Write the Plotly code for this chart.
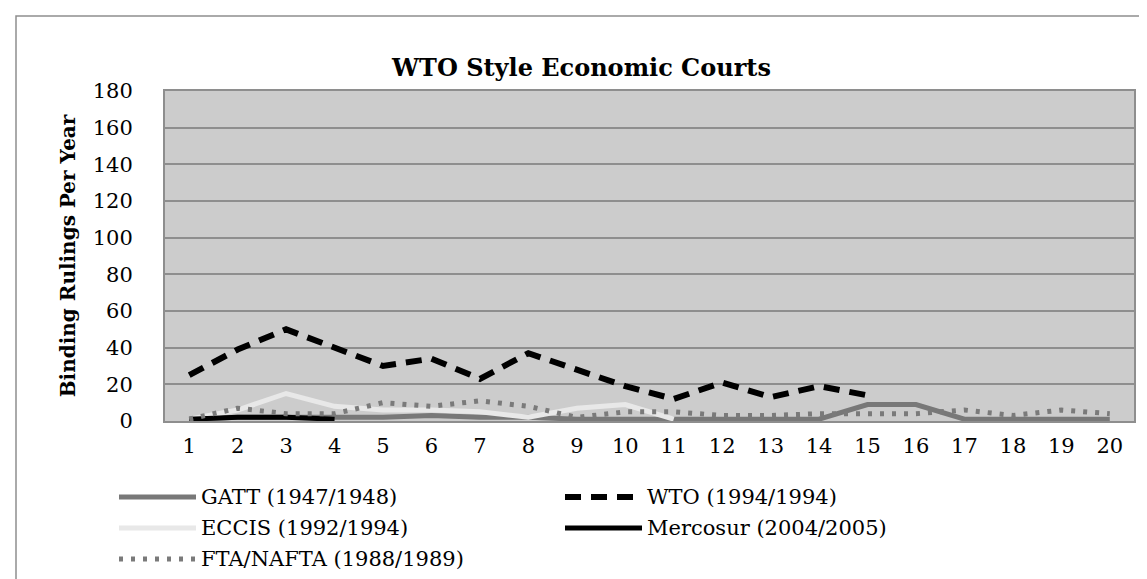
import plotly.graph_objects as go

years = list(range(1, 21))

series_names = [
    "GATT (1947/1948)",
    "WTO (1994/1994)",
    "ECCIS (1992/1994)",
    "Mercosur (2004/2005)",
    "FTA/NAFTA (1988/1989)",
]

gatt = [1, 2, 2, 2, 2, 3, 2, 2, 1, 1, 1, 1, 1, 1, 9, 9, 1, 1, 1, 1]
wto = [25, 39, 50, 40, 30, 34, 23, 37, 28, 19, 12, 21, 13, 19, 14]
eccis = [1, 6, 15, 8, 6, 6, 5, 2, 7, 9, 1]
mercosur = [1, 2, 2, 1]
fta = [1, 7, 4, 4, 10, 8, 11, 8, 2, 5, 5, 3, 3, 4, 4, 4, 6, 3, 6, 4]

y_ticks = list(range(0, 181, 20))

series_values = [gatt, wto, eccis, mercosur, fta]
series_colors = ["#787878", "#000000", "#e8e8e8", "#000000", "#7a7a7a"]
series_dash = ["solid", "16px,10px", "solid", "solid", "4px,8px"]
series_width = [5, 6, 5, 5, 5]

FONT = "DejaVu Serif"
W, H = 1147, 579
PL, PR, PT, PB = 157, 1126, 83, 413

fig = go.Figure()
for name, vals, col, dash, w in zip(series_names, series_values, series_colors, series_dash, series_width):
    fig.add_trace(go.Scatter(
        x=years[:len(vals)], y=vals, mode="lines", name=name,
        line=dict(color=col, width=w, dash=dash), showlegend=False,
    ))

fig.update_layout(
    width=W, height=H,
    margin=dict(l=PL, r=W - PR, t=PT, b=H - PB),
    paper_bgcolor="white",
    plot_bgcolor="#cccccc",
    title=dict(text="<b>WTO Style Economic Courts</b>", x=0.5, xanchor="center",
               y=1 - 60 / H, yanchor="middle",
               font=dict(family=FONT, size=24, color="black")),
    font=dict(family=FONT, color="black"),
)
fig.update_xaxes(
    range=[0.5, 20.5], tickmode="array", tickvals=years, ticktext=[str(v) for v in years],
    showgrid=False, zeroline=False, showline=True, linecolor="#8e8e8e", linewidth=2, mirror=True,
    tickfont=dict(family=FONT, size=21), ticks="", ticklabelstandoff=5,
)
fig.update_yaxes(
    range=[0, 180], tickmode="array", tickvals=y_ticks,
    showgrid=True, gridcolor="#8e8e8e", gridwidth=2, zeroline=False,
    showline=True, linecolor="#8e8e8e", linewidth=2, mirror=True,
    tickfont=dict(family=FONT, size=21), ticks="", ticklabelstandoff=26,
    title=dict(text="<b>Binding Rulings Per Year</b>", font=dict(family=FONT, size=20), standoff=12),
)


def px(x):
    return (x - PL) / (PR - PL)


def py(y):
    return (PB - y) / (PB - PT)


# manual legend (two columns, three rows)
legend_pos = [(0, 0), (1, 0), (0, 1), (1, 1), (0, 2)]
col_x = [(111, 188), (557, 634)]
row_y = [489, 520, 551]
for name, col, dash, w, (c, r) in zip(series_names, series_colors, series_dash, series_width, legend_pos):
    x0, x1 = col_x[c]
    yy = py(row_y[r])
    fig.add_shape(type="line", xref="paper", yref="paper",
                  x0=px(x0), x1=px(x1), y0=yy, y1=yy,
                  line=dict(color=col, width=w, dash=dash))
    fig.add_annotation(xref="paper", yref="paper", x=px(x1 + 3), y=yy,
                       text=name, showarrow=False, xanchor="left", yanchor="middle",
                       font=dict(family=FONT, size=21, color="black"))

# outer chart border
fig.add_shape(type="rect", xref="paper", yref="paper",
              x0=px(8), x1=px(1140), y0=py(600), y1=py(8),
              line=dict(color="#8e8e8e", width=1.5), fillcolor="rgba(0,0,0,0)", layer="below")

fig.write_html("out.html")
